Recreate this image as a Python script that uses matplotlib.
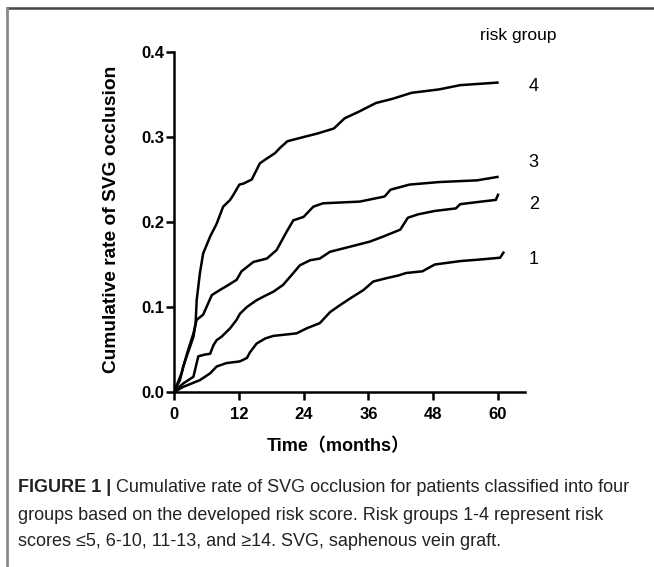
import matplotlib
matplotlib.use("Agg")
import matplotlib.pyplot as plt
from matplotlib.lines import Line2D

# Cumulative occlusion curves (months, rate)
t1 = [0, 1.7, 4.8, 6.7, 7.9, 9.7, 12.2, 13.5, 14.1, 15.3, 16.9, 18.4, 22.7, 24.6, 27.0,
      28.9, 30.7, 32.6, 35.1, 36.9, 39.4, 41.5, 43.0, 46.0, 48.3, 53.0, 56.9, 60.4, 61.0]
v1 = [0, 0.006, 0.014, 0.022, 0.030, 0.034, 0.036, 0.040, 0.047, 0.057, 0.063, 0.066, 0.069, 0.075, 0.081,
      0.094, 0.102, 0.110, 0.120, 0.130, 0.134, 0.137, 0.140, 0.142, 0.150, 0.154, 0.156, 0.158, 0.164]

t2 = [0, 1.7, 3.6, 4.5, 5.7, 6.7, 7.3, 7.9, 8.8, 10.4, 11.6, 12.2, 13.5, 15.3, 16.5, 18.4, 20.2, 22.1,
      23.3, 25.2, 27.0, 28.9, 31.4, 35.1, 36.3, 38.8, 41.9, 43.3, 45.2, 48.3, 52.2, 53.0, 56.9, 59.6, 60.0]
v2 = [0, 0.010, 0.018, 0.042, 0.044, 0.045, 0.055, 0.061, 0.065, 0.075, 0.085, 0.092, 0.100, 0.108, 0.112,
      0.118, 0.126, 0.140, 0.149, 0.155, 0.157, 0.165, 0.169, 0.175, 0.177, 0.183, 0.191, 0.205, 0.209,
      0.213, 0.216, 0.221, 0.224, 0.226, 0.232]

t3 = [0, 1.4, 2.4, 3.6, 4.2, 5.4, 7.0, 8.5, 10.1, 11.6, 12.5, 14.7, 17.2, 19.0, 20.9, 22.1, 24.0,
      25.8, 27.6, 34.4, 39.0, 40.1, 43.6, 49.1, 56.1, 59.9]
v3 = [0, 0.022, 0.045, 0.069, 0.085, 0.091, 0.114, 0.120, 0.126, 0.132, 0.142, 0.153, 0.157, 0.167,
      0.189, 0.202, 0.206, 0.218, 0.222, 0.224, 0.230, 0.238, 0.244, 0.247, 0.249, 0.253]

t4 = [0, 1.1, 1.7, 2.35, 2.96, 3.6, 4.0, 4.2, 4.5, 4.8, 5.4, 6.7, 7.9, 9.1, 10.4, 11.0, 12.1, 12.8,
      14.4, 15.9, 16.8, 18.7, 19.6, 21.0, 23.4, 26.5, 29.6, 31.6, 34.3, 37.4, 40.5, 44.0, 49.1, 53.0, 59.9]
v4 = [0, 0.014, 0.030, 0.042, 0.053, 0.065, 0.081, 0.108, 0.124, 0.140, 0.163, 0.183, 0.198, 0.218,
      0.226, 0.232, 0.244, 0.245, 0.250, 0.269, 0.273, 0.281, 0.287, 0.295, 0.299, 0.304, 0.310, 0.322,
      0.330, 0.340, 0.345, 0.352, 0.356, 0.361, 0.364]

groups = ["1", "2", "3", "4"]
label_y = [0.156, 0.2205, 0.270, 0.359]
xticks = [0, 12, 24, 36, 48, 60]
yticks = [0.0, 0.1, 0.2, 0.3, 0.4]

caption = [
    "Cumulative rate of SVG occlusion for patients classified into four",
    "groups based on the developed risk score. Risk groups 1-4 represent risk",
    "scores \u22645, 6-10, 11-13, and \u226514. SVG, saphenous vein graft.",
]

sans = ["Liberation Sans", "Noto Sans CJK SC", "DejaVu Sans"]

fig = plt.figure(figsize=(6.54, 5.67), dpi=100)
ax = fig.add_axes([174 / 654, 1 - 392 / 567, 351 / 654, 340 / 567])

for t, v in zip([t1, t2, t3, t4], [v1, v2, v3, v4]):
    ax.plot(t, v, color="black", lw=1.8, solid_joinstyle="round")

ax.set_xlim(0, 65)
ax.set_ylim(0, 0.4)
ax.set_xticks(xticks)
ax.set_yticks(yticks)
ax.set_yticklabels(["%.1f" % y for y in yticks])
for lab in ax.get_xticklabels() + ax.get_yticklabels():
    lab.set_family(sans)
    lab.set_fontweight("bold")
    lab.set_fontsize(12)
ax.tick_params(axis="both", direction="out", length=6, width=1.8, color="black")
ax.tick_params(axis="y", pad=1)
ax.tick_params(axis="x", pad=5)
for s in ["top", "right"]:
    ax.spines[s].set_visible(False)
for s in ["left", "bottom"]:
    ax.spines[s].set_linewidth(1.8)

ax.set_ylabel("Cumulative rate of SVG occlusion", family=sans, fontweight="bold", fontsize=13.8)
ax.yaxis.set_label_coords(-0.155, 0.509)
ax.set_xlabel("Time\uff08months\uff09", family=sans, fontweight="bold", fontsize=13)
ax.xaxis.set_label_coords(0.467, -0.135)

# risk group labels at right end of curves
for g, y in zip(groups, label_y):
    ax.text(66.6, y, g, ha="center", va="center", fontsize=13, family=sans, clip_on=False)
ax.text(63.7, 0.4196, "risk group", ha="center", va="center", fontsize=12.5, family=sans, clip_on=False)

# frame lines of the figure panel
fig.add_artist(Line2D([7 / 654, 1], [1 - 8 / 567, 1 - 8 / 567], color="#444444", lw=1.8))
fig.add_artist(Line2D([7 / 654, 7 / 654], [0, 1 - 8 / 567], color="#8a8a8a", lw=2))

# caption
fig.canvas.draw()
renderer = fig.canvas.get_renderer()
y0 = 1 - 488 / 567
dy = 27 / 567
head = fig.text(18 / 654, y0, "FIGURE 1 | ", family=sans, fontweight="bold", fontsize=13,
                color="#222222", va="center")
ext = head.get_window_extent(renderer)
fig.text(ext.x1 / fig.bbox.width, y0, caption[0], family=sans, fontsize=13, color="#222222", va="center")
for i, line in enumerate(caption[1:]):
    fig.text(18 / 654, y0 - dy * (i + 1), line, family=sans, fontsize=13, color="#222222", va="center")

fig.savefig("out.png", dpi=100)
